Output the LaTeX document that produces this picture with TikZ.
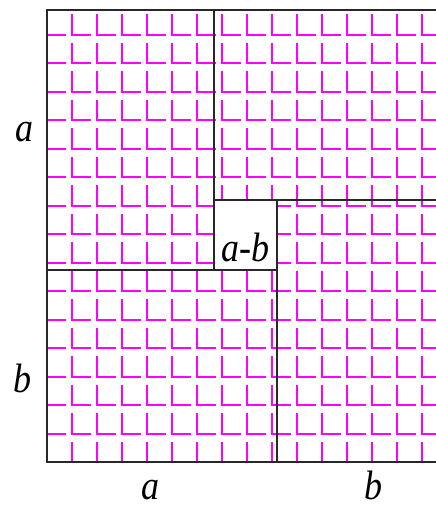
\documentclass[tikz,border=0pt]{standalone}
\usepackage{graphicx}
\usepackage{fontspec}
\setmainfont{Liberation Serif}
\definecolor{mag}{RGB}{255,0,255}
\definecolor{edgecol}{RGB}{40,40,40}
\begin{document}
\begin{tikzpicture}[x=1pt,y=-1pt,
  hatch/.style={draw=mag, line width=2pt},
  edge/.style={draw=edgecol, line width=1.8pt},
  lbl/.style={anchor=base, inner sep=0pt, font=\fontsize{36}{40}\selectfont\itshape}]
\useasboundingbox (0,0) rectangle (436,506);
\clip (0,0) rectangle (436,506);
\begin{scope}
\clip (47,10) rectangle (447,462);
\foreach \i in {0,...,16}{
  \foreach \j in {0,...,16}{
    \draw[hatch] ({47.3+25*\i},{6.5+28.47*\j-20.5}) -- ({47.3+25*\i},{6.5+28.47*\j}) -- ({66.3+25*\i},{6.5+28.47*\j});
  }}
\end{scope}
\fill[white] (214,200) rectangle (277,270);
% outer frame
\draw[edge] (447,10) -- (47,10) -- (47,462) -- (447,462) -- cycle;
% inner edges
\draw[edge] (214,10) -- (214,270);
\draw[edge] (47,270) -- (277,270);
\draw[edge] (277,200) -- (277,462);
\draw[edge] (214,200) -- (447,200);
% labels
\node[lbl] (la) at (24.5,141.5) {\scalebox{1}[1.14]{a}};
\node[lbl] (lb) at (22,392) {\scalebox{1}[1.14]{b}};
\node[lbl] (ba) at (150,499) {\scalebox{1}[1.14]{a}};
\node[lbl] (bb) at (373,499) {\scalebox{1}[1.14]{b}};
\node[lbl] (ab) at (245.5,261.5) {\scalebox{1}[1.14]{a-b}};
\end{tikzpicture}
\end{document}
